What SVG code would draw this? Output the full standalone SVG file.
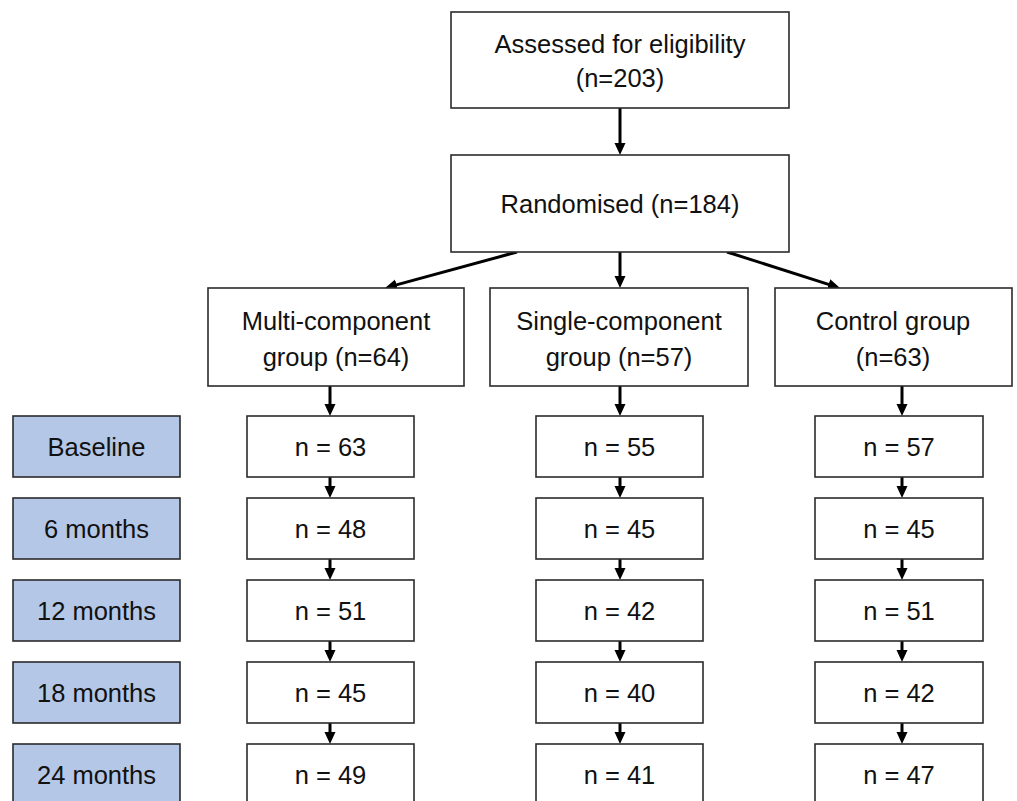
<svg xmlns="http://www.w3.org/2000/svg" width="1017" height="801" viewBox="0 0 1017 801">
<style>
.box{fill:#ffffff;stroke:#2b2b2b;stroke-width:1.6}
.lbl{fill:#b4c7e7;stroke:#2b2b2b;stroke-width:1.6}
text{font-family:"Liberation Sans",Arial,sans-serif;font-size:25.5px;fill:#111;text-anchor:middle}
.c{stroke:#000;stroke-width:3;fill:none;marker-end:url(#ah)}
</style>
<defs>
<marker id="ah" markerUnits="userSpaceOnUse" markerWidth="12" markerHeight="12" viewBox="0 0 12 12" refX="4" refY="6" orient="auto">
<path d="M0,0.5 L12,6 L0,11.5 z" fill="#000"/>
</marker>
</defs>
<rect width="1017" height="801" fill="#fff"/>
<g id="connectors">
<line class="c" x1="620" y1="108" x2="620" y2="147"/>
<line class="c" x1="620" y1="252" x2="620" y2="280"/>
<line class="c" x1="517" y1="252" x2="392.7" y2="285.9"/>
<line class="c" x1="727" y1="252" x2="832.4" y2="285.6"/>
<line class="c" x1="330" y1="386" x2="330" y2="408"/>
<line class="c" x1="620" y1="386" x2="620" y2="408"/>
<line class="c" x1="902" y1="386" x2="902" y2="408"/>
<line class="c" x1="330" y1="477" x2="330" y2="490"/>
<line class="c" x1="620" y1="477" x2="620" y2="490"/>
<line class="c" x1="902" y1="477" x2="902" y2="490"/>
<line class="c" x1="330" y1="559" x2="330" y2="572"/>
<line class="c" x1="620" y1="559" x2="620" y2="572"/>
<line class="c" x1="902" y1="559" x2="902" y2="572"/>
<line class="c" x1="330" y1="641" x2="330" y2="654"/>
<line class="c" x1="620" y1="641" x2="620" y2="654"/>
<line class="c" x1="902" y1="641" x2="902" y2="654"/>
<line class="c" x1="330" y1="723" x2="330" y2="736"/>
<line class="c" x1="620" y1="723" x2="620" y2="736"/>
<line class="c" x1="902" y1="723" x2="902" y2="736"/>
</g>
<g id="assessed"><rect class="box" x="451" y="12" width="338" height="96"/><text x="620" y="53">Assessed for eligibility</text><text x="620" y="87">(n=203)</text></g>
<g id="randomised"><rect class="box" x="451" y="155" width="338" height="97"/><text x="620" y="213">Randomised (n=184)</text></g>
<g id="multi"><rect class="box" x="208" y="288" width="256" height="98"/><text x="336" y="330">Multi-component</text><text x="336" y="366">group (n=64)</text></g>
<g id="single"><rect class="box" x="490" y="288" width="258" height="98"/><text x="619" y="330">Single-component</text><text x="619" y="366">group (n=57)</text></g>
<g id="control"><rect class="box" x="775" y="288" width="237" height="98"/><text x="893" y="330">Control group</text><text x="893" y="366">(n=63)</text></g>
<g id="lbl-baseline"><rect class="lbl" x="13" y="416" width="167" height="61"/><text x="96.5" y="456">Baseline</text></g>
<g id="lbl-6"><rect class="lbl" x="13" y="498" width="167" height="61"/><text x="96.5" y="538">6 months</text></g>
<g id="lbl-12"><rect class="lbl" x="13" y="580" width="167" height="61"/><text x="96.5" y="620">12 months</text></g>
<g id="lbl-18"><rect class="lbl" x="13" y="662" width="167" height="61"/><text x="96.5" y="702">18 months</text></g>
<g id="lbl-24"><rect class="lbl" x="13" y="744" width="167" height="61"/><text x="96.5" y="784">24 months</text></g>
<g id="m0"><rect class="box" x="247" y="416" width="167" height="61"/><text x="330.5" y="456">n = 63</text></g>
<g id="m6"><rect class="box" x="247" y="498" width="167" height="61"/><text x="330.5" y="538">n = 48</text></g>
<g id="m12"><rect class="box" x="247" y="580" width="167" height="61"/><text x="330.5" y="620">n = 51</text></g>
<g id="m18"><rect class="box" x="247" y="662" width="167" height="61"/><text x="330.5" y="702">n = 45</text></g>
<g id="m24"><rect class="box" x="247" y="744" width="167" height="61"/><text x="330.5" y="784">n = 49</text></g>
<g id="s0"><rect class="box" x="536" y="416" width="167" height="61"/><text x="619.5" y="456">n = 55</text></g>
<g id="s6"><rect class="box" x="536" y="498" width="167" height="61"/><text x="619.5" y="538">n = 45</text></g>
<g id="s12"><rect class="box" x="536" y="580" width="167" height="61"/><text x="619.5" y="620">n = 42</text></g>
<g id="s18"><rect class="box" x="536" y="662" width="167" height="61"/><text x="619.5" y="702">n = 40</text></g>
<g id="s24"><rect class="box" x="536" y="744" width="167" height="61"/><text x="619.5" y="784">n = 41</text></g>
<g id="c0"><rect class="box" x="815" y="416" width="168" height="61"/><text x="899" y="456">n = 57</text></g>
<g id="c6"><rect class="box" x="815" y="498" width="168" height="61"/><text x="899" y="538">n = 45</text></g>
<g id="c12"><rect class="box" x="815" y="580" width="168" height="61"/><text x="899" y="620">n = 51</text></g>
<g id="c18"><rect class="box" x="815" y="662" width="168" height="61"/><text x="899" y="702">n = 42</text></g>
<g id="c24"><rect class="box" x="815" y="744" width="168" height="61"/><text x="899" y="784">n = 47</text></g>
</svg>
